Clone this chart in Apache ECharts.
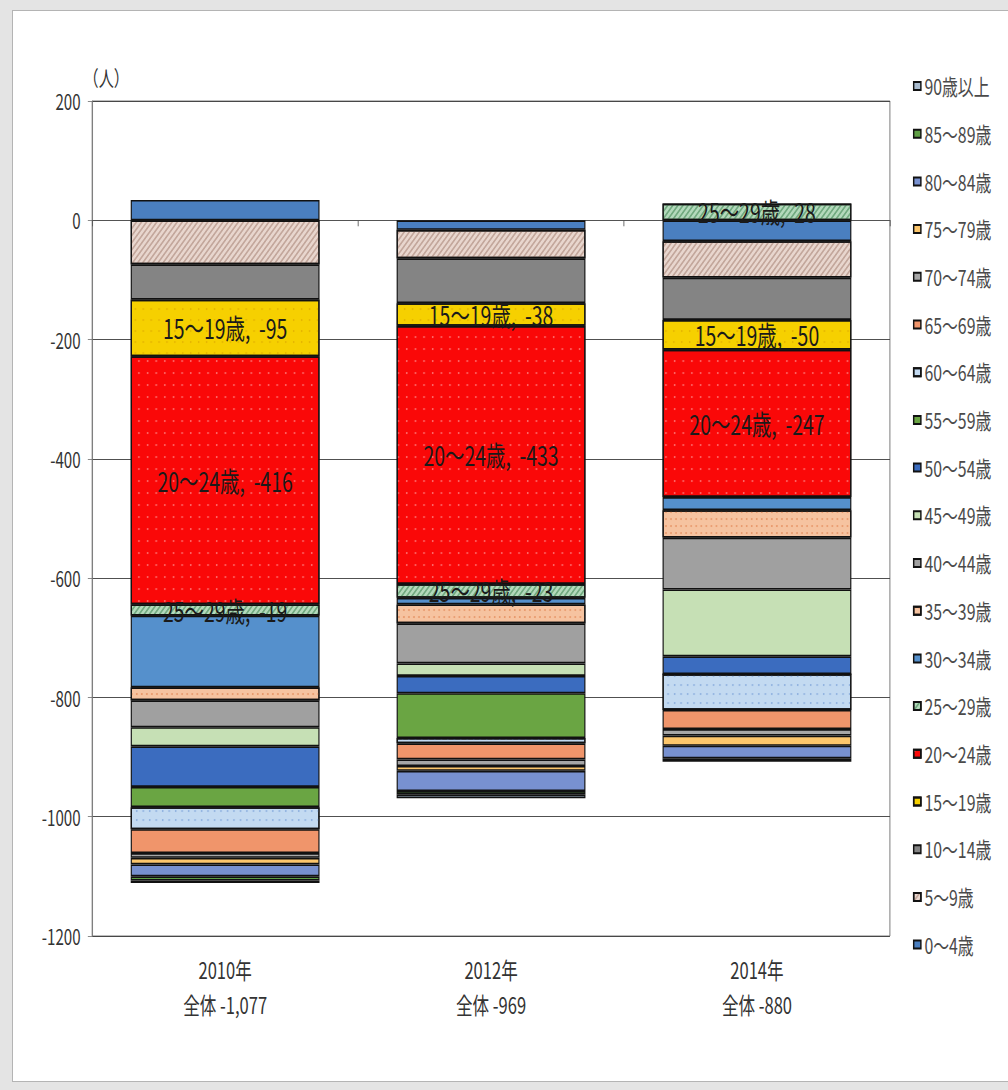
<!DOCTYPE html>
<html lang="ja">
<head>
<meta charset="utf-8">
<title>年齢別 転出超過数の推移</title>
<script src="https://cdn.jsdelivr.net/npm/echarts@6/dist/echarts.min.js"></script>
<style>
  html, body { margin: 0; padding: 0; width: 1008px; height: 1090px; overflow: hidden; background: #e4e4e4; }
  #panel { position: absolute; left: 12px; top: 10px; width: 1000px; height: 1072px; background: #fff; border: 1px solid #b4b4b4; box-sizing: border-box; }
  /* The chart is laid out wider and compressed horizontally to get the narrow, tall lettering */
  #chart { position: absolute; left: 0; top: 0; width: 1400px; height: 1090px; transform: scaleX(0.72); transform-origin: 0 0; }
</style>
</head>
<body>
<div id="panel"></div>
<div id="chart"></div>
<script>
// Years on the category axis and the overall totals printed under them
const categories = ['2010年', '2012年', '2014年'];
const totals = [-1077, -969, -880];

// Age groups, in stacking order (youngest first)
const ageGroups = [
  '0～4歳', '5～9歳', '10～14歳', '15～19歳', '20～24歳', '25～29歳', '30～34歳',
  '35～39歳', '40～44歳', '45～49歳', '50～54歳', '55～59歳', '60～64歳',
  '65～69歳', '70～74歳', '75～79歳', '80～84歳', '85～89歳', '90歳以上'
];

// Net migration (persons) per age group, one array per year
const values2010 = [34, -74, -59, -95, -416, -19, -120, -22, -45, -32, -68, -34, -37, -40, -8, -11, -20, -7, -4];
const values2012 = [-16, -48, -75, -38, -433, -23, -11, -32, -67, -21, -29, -75, -9, -27, -11, -8, -34, -6, -6];
const values2014 = [-35, -61, -71, -50, -247, 28, -22, -46, -87, -112, -30, 0, -60, -32, -11, -17, -21, -3, -3];

// Age groups whose segments carry a value label
const labelledGroups = ['15～19歳', '20～24歳', '25～29歳'];

const FONT = "'Noto Sans CJK JP', 'Noto Sans', sans-serif";

const hatch = (color) => ({
  symbol: 'rect', symbolSize: 1, dashArrayX: [1, 0], dashArrayY: [1.5, 2.5],
  rotation: -Math.PI / 4, color: color
});
const dots = (color, gap) => ({
  symbol: 'circle', symbolSize: 1, dashArrayX: [1.6, gap], dashArrayY: [1.6, gap],
  color: color
});

const styles = {
  '0～4歳':   { color: '#4a7fc0' },
  '5～9歳':   { color: '#e8d6ce', decal: hatch('rgba(150,110,95,0.45)') },
  '10～14歳': { color: '#848484' },
  '15～19歳': { color: '#f6d000', decal: dots('rgba(190,120,0,0.35)', 9) },
  '20～24歳': { color: '#fa0808', decal: dots('rgba(255,170,170,0.7)', 10) },
  '25～29歳': { color: '#b3d9bb', decal: hatch('rgba(60,130,80,0.55)') },
  '30～34歳': { color: '#5590cc' },
  '35～39歳': { color: '#f6c3a0', decal: dots('rgba(225,130,80,0.8)', 5) },
  '40～44歳': { color: '#a0a0a0' },
  '45～49歳': { color: '#c6e0b5' },
  '50～54歳': { color: '#3b6cbf' },
  '55～59歳': { color: '#6aa543' },
  '60～64歳': { color: '#c3daf1', decal: dots('rgba(120,160,215,0.8)', 7) },
  '65～69歳': { color: '#f0956b' },
  '70～74歳': { color: '#a6a6a6' },
  '75～79歳': { color: '#fcc66c' },
  '80～84歳': { color: '#7891d0' },
  '85～89歳': { color: '#5f9f45' },
  '90歳以上': { color: '#a9bccf' }
};

const yearValues = [values2010, values2012, values2014];

const series = ageGroups.map((name, i) => {
  const st = styles[name];
  const showLabel = labelledGroups.includes(name);
  return {
    name: name,
    type: 'bar',
    stack: 'total',
    barWidth: '71%',
    data: yearValues.map(v => v[i]),
    itemStyle: {
      color: st.color,
      borderColor: '#111',
      borderWidth: 1.6,
      decal: st.decal || null
    },
    label: {
      show: showLabel,
      position: 'inside',
      formatter: p => p.seriesName + ',  ' + p.value,
      fontFamily: FONT,
      fontSize: 27,
      color: '#1a1a1a',
      textBorderWidth: 0
    },
    emphasis: { disabled: true }
  };
});

const chart = echarts.init(document.getElementById('chart'), null, { renderer: 'svg' });

chart.setOption({
  animation: false,
  backgroundColor: 'transparent',
  textStyle: { fontFamily: FONT },
  grid: {
    left: 128, right: 164, top: 101, bottom: 154,
    show: true, borderColor: '#666', borderWidth: 1, backgroundColor: 'transparent'
  },
  legend: {
    orient: 'vertical',
    left: 1263,
    top: 69,
    icon: 'rect',
    itemWidth: 10,
    itemHeight: 8,
    itemGap: 23.7,
    data: ageGroups.slice().reverse(),
    textStyle: { fontFamily: FONT, fontSize: 22, lineHeight: 24, color: '#4a4a4a' },
    selectedMode: false
  },
  xAxis: {
    type: 'category',
    data: categories,
    axisLine: { lineStyle: { color: '#555', width: 1 } },
    axisTick: { show: true, length: 6, lineStyle: { color: '#555' } },
    axisLabel: {
      margin: 16,
      fontSize: 23,
      lineHeight: 35,
      color: '#333',
      formatter: (v, i) => v + '\n全体 ' + totals[i].toLocaleString('en-US')
    }
  },
  yAxis: {
    type: 'value',
    min: -1200,
    max: 200,
    interval: 200,
    name: '（人）',
    nameLocation: 'end',
    nameGap: 14,
    nameTextStyle: { fontSize: 21, color: '#333', align: 'left', padding: [0, 0, 0, -12] },
    axisLine: { show: true, lineStyle: { color: '#777' } },
    axisTick: { show: true, length: 6, lineStyle: { color: '#777' } },
    axisLabel: { fontSize: 21, margin: 16, color: '#333', formatter: v => String(v) },
    splitLine: { lineStyle: { color: '#333', width: 1 } }
  },
  series: series
});
</script>
</body>
</html>
